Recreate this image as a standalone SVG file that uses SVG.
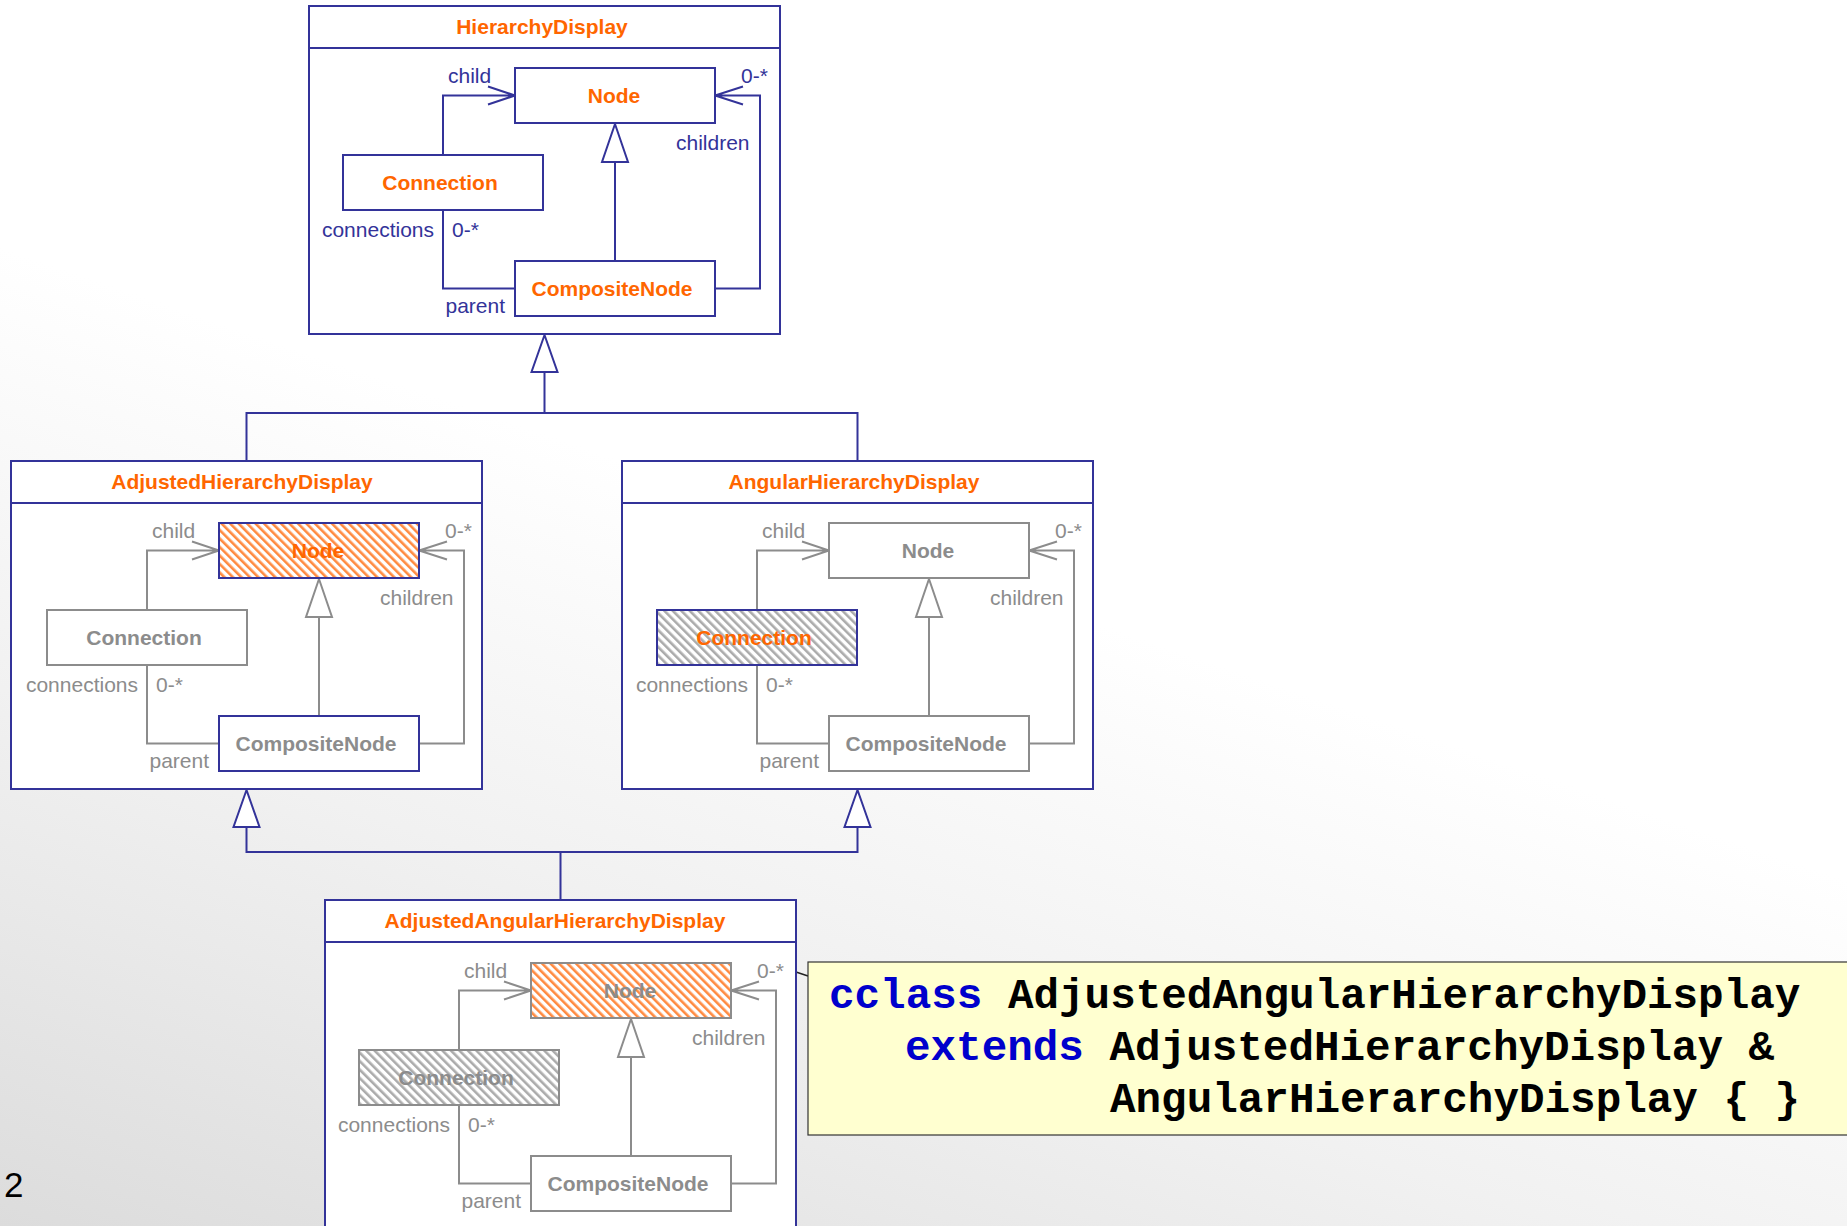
<svg xmlns="http://www.w3.org/2000/svg" width="1847" height="1226" viewBox="0 0 1847 1226">
  <defs>
    <linearGradient id="bg" gradientUnits="userSpaceOnUse" x1="0" y1="1226" x2="300" y2="350">
      <stop offset="0" stop-color="#dcdcdc"/>
      <stop offset="0.55" stop-color="#f1f1f1"/>
      <stop offset="1" stop-color="#ffffff"/>
    </linearGradient>
    <pattern id="hatchOrange" width="6" height="6" patternUnits="userSpaceOnUse" patternTransform="rotate(-45)">
      <rect width="6" height="6" fill="#ffffff"/>
      <rect width="2.6" height="6" fill="#ff8a40"/>
    </pattern>
    <pattern id="hatchGray" width="6" height="6" patternUnits="userSpaceOnUse" patternTransform="rotate(-45)">
      <rect width="6" height="6" fill="#ffffff"/>
      <rect width="2.6" height="6" fill="#ababab"/>
    </pattern>
    <style>
      .frame { fill: #ffffff; stroke: #333399; stroke-width: 2; }
      .b { stroke: #333399; }
      .g { stroke: #8c8c8c; }
      .box { fill: #ffffff; stroke-width: 2; }
      .ho { fill: url(#hatchOrange); }
      .hg { fill: url(#hatchGray); }
      .ln { fill: none; stroke-width: 2; }
      .tri { fill: #ffffff; stroke-width: 2; stroke-linejoin: miter; }
      .title { font: bold 21px "Liberation Sans", Arial, sans-serif; fill: #ff6600; text-anchor: middle; }
      .name { font: bold 21px "Liberation Sans", Arial, sans-serif; text-anchor: middle; }
      .lbl { font: 21px "Liberation Sans", Arial, sans-serif; }
      .end { text-anchor: end; }
      .to { fill: #ff6600; }
      .tb { fill: #333399; }
      .tg { fill: #8c8c8c; }
      .code { font: bold 42.6px "Liberation Mono", "Courier New", monospace; fill: #000000; }
      .kw { fill: #0000cc; }
    </style>
  </defs>

  <rect width="1847" height="1226" fill="url(#bg)"/>

  <!-- generalization links between the display classes -->
  <g id="connectors" class="b">
    <path class="ln" d="M544.5,372 V413 M246.5,461 V413 H857.5 V461"/>
    <path class="tri" d="M544.5,335 L531.5,372 L557.5,372 Z"/>
    <path class="ln" d="M560.5,900 V852 M246.5,827 V852 H857.5 V827"/>
    <path class="tri" d="M246.5,790 L233.5,827 L259.5,827 Z"/>
    <path class="tri" d="M857.5,790 L844.5,827 L870.5,827 Z"/>
    <path class="ln" d="M796,972 L808,976" style="stroke:#222222;stroke-width:1.5"/>
  </g>

  <!-- HierarchyDisplay -->
  <g id="HierarchyDisplay" transform="translate(309,6)">
    <rect class="frame" x="0" y="0" width="471" height="328"/>
    <line class="b" x1="0" y1="42" x2="471" y2="42" stroke-width="2"/>
    <text class="title" x="233" y="28">HierarchyDisplay</text>
    <g class="b">
      <path class="ln" d="M134,149 V89.5 H206 M179,80.5 L206,89.5 L179,98.5"/>
      <path class="ln" d="M406,282.5 H451 V89.5 H406 M434,80.5 L406,89.5 L434,98.5"/>
      <path class="ln" d="M134,204 V282.5 H206"/>
      <path class="ln" d="M306,255 V156"/>
      <path class="tri" d="M306,118 L293,156 L319,156 Z"/>
    </g>
    <g id="hd-node"><rect class="box b" x="206" y="62" width="200" height="55"/><text class="name to" x="305" y="97">Node</text></g>
    <g id="hd-connection"><rect class="box b" x="34" y="149" width="200" height="55"/><text class="name to" x="131" y="184">Connection</text></g>
    <g id="hd-composite"><rect class="box b" x="206" y="255" width="200" height="55"/><text class="name to" x="303" y="290">CompositeNode</text></g>
    <g class="tb">
      <text class="lbl" x="139" y="77">child</text>
      <text class="lbl" x="432" y="77">0-*</text>
      <text class="lbl" x="367" y="144">children</text>
      <text class="lbl end" x="125" y="231">connections</text>
      <text class="lbl" x="143" y="231">0-*</text>
      <text class="lbl end" x="196" y="307">parent</text>
    </g>
  </g>

  <!-- AdjustedHierarchyDisplay -->
  <g id="AdjustedHierarchyDisplay" transform="translate(11,461)">
    <rect class="frame" x="0" y="0" width="471" height="328"/>
    <line class="b" x1="0" y1="42" x2="471" y2="42" stroke-width="2"/>
    <text class="title" x="231" y="28">AdjustedHierarchyDisplay</text>
    <g transform="translate(2,0)">
      <g class="g">
        <path class="ln" d="M134,149 V89.5 H206 M179,80.5 L206,89.5 L179,98.5"/>
        <path class="ln" d="M406,282.5 H451 V89.5 H406 M434,80.5 L406,89.5 L434,98.5"/>
        <path class="ln" d="M134,204 V282.5 H206"/>
        <path class="ln" d="M306,255 V156"/>
        <path class="tri" d="M306,118 L293,156 L319,156 Z"/>
      </g>
      <g id="ahd-node"><rect class="box b ho" x="206" y="62" width="200" height="55"/><text class="name to" x="305" y="97">Node</text></g>
      <g id="ahd-connection"><rect class="box g" x="34" y="149" width="200" height="55"/><text class="name tg" x="131" y="184">Connection</text></g>
      <g id="ahd-composite"><rect class="box b" x="206" y="255" width="200" height="55"/><text class="name tg" x="303" y="290">CompositeNode</text></g>
      <g class="tg">
        <text class="lbl" x="139" y="77">child</text>
        <text class="lbl" x="432" y="77">0-*</text>
        <text class="lbl" x="367" y="144">children</text>
        <text class="lbl end" x="125" y="231">connections</text>
        <text class="lbl" x="143" y="231">0-*</text>
        <text class="lbl end" x="196" y="307">parent</text>
      </g>
    </g>
  </g>

  <!-- AngularHierarchyDisplay -->
  <g id="AngularHierarchyDisplay" transform="translate(622,461)">
    <rect class="frame" x="0" y="0" width="471" height="328"/>
    <line class="b" x1="0" y1="42" x2="471" y2="42" stroke-width="2"/>
    <text class="title" x="232" y="28">AngularHierarchyDisplay</text>
    <g transform="translate(1,0)">
      <g class="g">
        <path class="ln" d="M134,149 V89.5 H206 M179,80.5 L206,89.5 L179,98.5"/>
        <path class="ln" d="M406,282.5 H451 V89.5 H406 M434,80.5 L406,89.5 L434,98.5"/>
        <path class="ln" d="M134,204 V282.5 H206"/>
        <path class="ln" d="M306,255 V156"/>
        <path class="tri" d="M306,118 L293,156 L319,156 Z"/>
      </g>
      <g id="ang-node"><rect class="box g" x="206" y="62" width="200" height="55"/><text class="name tg" x="305" y="97">Node</text></g>
      <g id="ang-connection"><rect class="box b hg" x="34" y="149" width="200" height="55"/><text class="name to" x="131" y="184">Connection</text></g>
      <g id="ang-composite"><rect class="box g" x="206" y="255" width="200" height="55"/><text class="name tg" x="303" y="290">CompositeNode</text></g>
      <g class="tg">
        <text class="lbl" x="139" y="77">child</text>
        <text class="lbl" x="432" y="77">0-*</text>
        <text class="lbl" x="367" y="144">children</text>
        <text class="lbl end" x="125" y="231">connections</text>
        <text class="lbl" x="143" y="231">0-*</text>
        <text class="lbl end" x="196" y="307">parent</text>
      </g>
    </g>
  </g>

  <!-- AdjustedAngularHierarchyDisplay -->
  <g id="AdjustedAngularHierarchyDisplay" transform="translate(325,900)">
    <rect class="frame" x="0" y="0" width="471" height="328"/>
    <line class="b" x1="0" y1="42" x2="471" y2="42" stroke-width="2"/>
    <text class="title" x="230" y="28">AdjustedAngularHierarchyDisplay</text>
    <g transform="translate(0,1)">
      <g class="g">
        <path class="ln" d="M134,149 V89.5 H206 M179,80.5 L206,89.5 L179,98.5"/>
        <path class="ln" d="M406,282.5 H451 V89.5 H406 M434,80.5 L406,89.5 L434,98.5"/>
        <path class="ln" d="M134,204 V282.5 H206"/>
        <path class="ln" d="M306,255 V156"/>
        <path class="tri" d="M306,118 L293,156 L319,156 Z"/>
      </g>
      <g id="aahd-node"><rect class="box g ho" x="206" y="62" width="200" height="55"/><text class="name tg" x="305" y="97">Node</text></g>
      <g id="aahd-connection"><rect class="box g hg" x="34" y="149" width="200" height="55"/><text class="name tg" x="131" y="184">Connection</text></g>
      <g id="aahd-composite"><rect class="box g" x="206" y="255" width="200" height="55"/><text class="name tg" x="303" y="290">CompositeNode</text></g>
      <g class="tg">
        <text class="lbl" x="139" y="77">child</text>
        <text class="lbl" x="432" y="77">0-*</text>
        <text class="lbl" x="367" y="144">children</text>
        <text class="lbl end" x="125" y="231">connections</text>
        <text class="lbl" x="143" y="231">0-*</text>
        <text class="lbl end" x="196" y="307">parent</text>
      </g>
    </g>
  </g>

  <!-- code note -->
  <g id="code-note">
    <rect x="808" y="962" width="1045" height="173" fill="#ffffd0" stroke="#333333" stroke-width="1.2"/>
    <text class="code" x="829" y="1008"><tspan class="kw">cclass</tspan> AdjustedAngularHierarchyDisplay</text>
    <text class="code" x="905" y="1060"><tspan class="kw">extends</tspan> AdjustedHierarchyDisplay &amp;</text>
    <text class="code" x="1110" y="1112">AngularHierarchyDisplay { }</text>
  </g>

  <!-- page number -->
  <text x="4" y="1197" style="font: 35px 'Liberation Sans', Arial, sans-serif; fill:#000000">2</text>
</svg>
